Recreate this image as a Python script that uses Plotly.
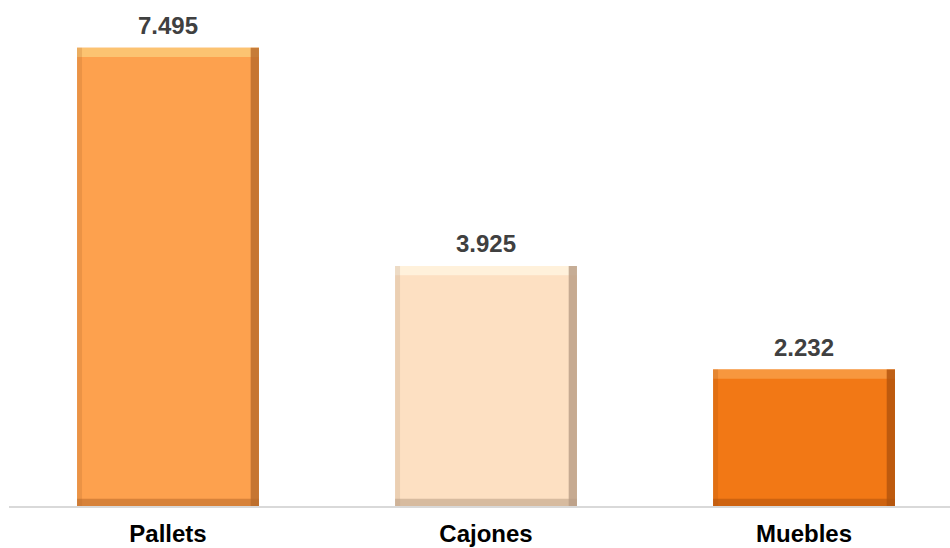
"""Barras: volumen por producto."""

import plotly.graph_objects as go

CATEGORIAS = ["Pallets", "Cajones", "Muebles"]
VALORES = [7.495, 3.925, 2.232]
ETIQUETAS = ["7.495", "3.925", "2.232"]

COLORES = ["#FDA14E", "#FDE0C2", "#F27815"]
BRILLO = ["#FBC978", "#FFF3DF", "#F89C45"]
SOMBRA = ["#B86A2A", "#B89C84", "#B0520C"]

ANCHO = 0.572
BISEL_V = 0.15
BISEL_H = 0.026

fig = go.Figure()

# barra principal
fig.add_trace(go.Bar(
    x=CATEGORIAS, y=VALORES, width=ANCHO, offset=-ANCHO / 2,
    marker=dict(color=COLORES, line=dict(width=0)),
    hoverinfo="skip", showlegend=False))

# bisel superior (claro)
fig.add_trace(go.Bar(
    x=CATEGORIAS, y=[BISEL_V] * 3, base=[v - BISEL_V for v in VALORES],
    width=ANCHO, offset=-ANCHO / 2,
    marker=dict(color=BRILLO, opacity=0.85, line=dict(width=0)),
    hoverinfo="skip", showlegend=False))

# bisel inferior (oscuro)
fig.add_trace(go.Bar(
    x=CATEGORIAS, y=[BISEL_V * 0.8] * 3, base=[0] * 3,
    width=ANCHO, offset=-ANCHO / 2,
    marker=dict(color=SOMBRA, opacity=0.55, line=dict(width=0)),
    hoverinfo="skip", showlegend=False))

# bisel derecho (sombra)
fig.add_trace(go.Bar(
    x=CATEGORIAS, y=VALORES, width=BISEL_H, offset=ANCHO / 2 - BISEL_H,
    marker=dict(color=SOMBRA, opacity=0.8, line=dict(width=0)),
    hoverinfo="skip", showlegend=False))

# bisel izquierdo (leve)
fig.add_trace(go.Bar(
    x=CATEGORIAS, y=VALORES, width=BISEL_H * 0.6, offset=-ANCHO / 2,
    marker=dict(color=SOMBRA, opacity=0.25, line=dict(width=0)),
    hoverinfo="skip", showlegend=False))

for cat, v, txt in zip(CATEGORIAS, VALORES, ETIQUETAS):
    fig.add_annotation(
        x=cat, y=v, text=f"<b>{txt}</b>", showarrow=False,
        yanchor="bottom", yshift=7,
        font=dict(family="Liberation Sans, Arial, sans-serif", size=24, color="#404040"))

fig.update_layout(
    width=950, height=548, barmode="overlay",
    plot_bgcolor="white", paper_bgcolor="white",
    margin=dict(t=17, b=42, l=9, r=0, autoexpand=False),
    font=dict(family="Liberation Sans, Arial, sans-serif", size=24, color="#000000"),
    xaxis=dict(range=[-0.5, 2.459], showline=True, linecolor="#D9D9D9", linewidth=2,
               tickfont=dict(size=24, color="#000000"), ticks="", showgrid=False,
               tickprefix="<b>", ticksuffix="</b>", automargin=False,
               ticklabelstandoff=5),
    yaxis=dict(range=[0, 8], visible=False, showgrid=False),
)

fig.write_html("out.html", config={"displayModeBar": False},
               post_script="document.body.style.margin='0';")
